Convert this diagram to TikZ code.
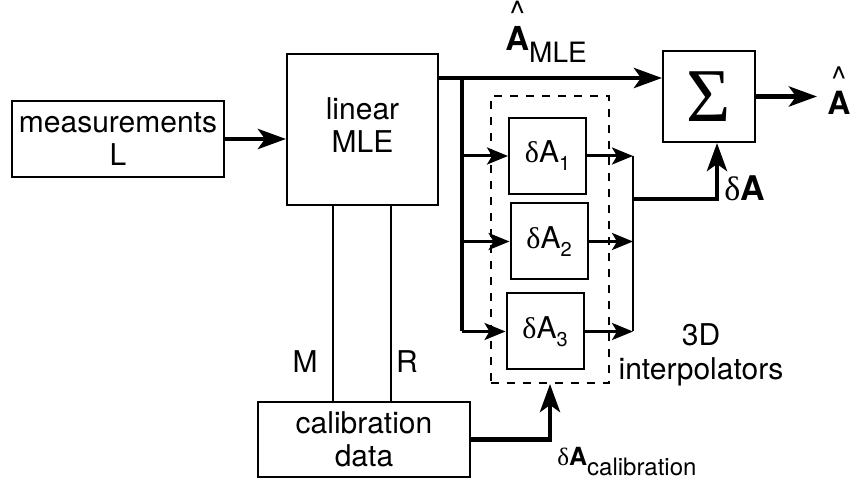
\documentclass[tikz,border=0pt]{standalone}
\usepackage{fontspec}
\setmainfont{TeX Gyre Heros}
\newfontfamily\greekfont{Liberation Serif}
\usetikzlibrary{arrows.meta,positioning}

\newcommand{\dl}{{\greekfont δ}}
\newcommand{\sbs}[1]{\raisebox{-4pt}{\fontsize{10}{10}\selectfont #1}}
\newcommand{\hatA}{\ooalign{\textbf{A}\cr\hidewidth\raisebox{0.8em}{\textasciicircum}\hidewidth\cr}}

\begin{document}
\begin{tikzpicture}[
  x=0.5pt, y=-0.5pt,
  box/.style={draw, line width=1pt, inner sep=0pt, align=center,
    font=\fontsize{15}{16.5}\selectfont},
  frame/.style={draw, dash pattern=on 4pt off 4pt, line width=1pt},
  arrow/.style={-{Stealth[length=14pt, width=10pt, inset=3.5pt]}, line width=2.4pt},
  sarrow/.style={-{Stealth[length=10.5pt, width=8.5pt, inset=2.5pt]}, line width=1.5pt},
  wire/.style={line width=1pt},
  label/.style={font=\fontsize{15}{17}\selectfont, inner sep=0pt, align=center}
]
  \useasboundingbox (0,0) rectangle (852,485);

  % --- Blocks ---
  \node[box, minimum width=106pt, minimum height=38pt] (meas) at (118,139) {measurements\\L};
  \node[box, minimum width=75.5pt, minimum height=75.5pt] (mle) at (362.5,129.5)
    {\raisebox{3pt}{\begin{tabular}{@{}c@{}}linear\\MLE\end{tabular}}};
  \node[box, minimum width=46pt, minimum height=45.5pt,
    font=\greekfont\fontsize{38}{38}\selectfont] (sum) at (709,96.5) {Σ};
  \node[box, minimum width=106pt, minimum height=37.5pt] (calib) at (364,439.5) {calibration\\data};

  % --- Interpolators ---
  \node[frame, minimum width=59pt, minimum height=143.5pt] (interp) at (550,239.5) {};
  \node[box, minimum width=38.5pt, minimum height=38pt] (d1) at (547.5,156) {\dl A\sbs{1}};
  \node[box, minimum width=38.5pt, minimum height=38pt] (d2) at (549,241.5) {\dl A\sbs{2}};
  \node[box, minimum width=38.5pt, minimum height=38pt] (d3) at (545,331.5) {\dl A\sbs{3}};

  \coordinate (split) at (462,78);
  \coordinate (join) at (633,199);
  \coordinate (out) at (817,96.5);

  % --- Arrows ---
  \draw[arrow] (meas.east) -- (meas.east -| mle.west);
  \draw[arrow] (mle.east |- split) -- (sum.west |- split);
  \draw[line width=2pt] (split) -- (split |- d3);
  \foreach \i in {1,2,3} {
    \draw[sarrow] (split |- d\i) -- (d\i.west);
    \draw[sarrow] (d\i.east) -- (d\i.east -| join);
  }
  \draw[line width=1.3pt] (join |- d1) -- (join |- d3);
  \draw[arrow] (join) -| ([xshift=4pt]sum.south);
  \draw[arrow] (sum.east) -- (out);
  \draw[wire] ([xshift=-15pt]mle.south) -- ([xshift=-15pt]mle.south |- calib.north);
  \draw[wire] ([xshift=14pt]mle.south) -- ([xshift=14pt]mle.south |- calib.north);
  \draw[arrow] (calib.east) -| (interp.south);

  % --- Labels ---
  \node[label] (mlab) at (305,362) {M};
  \node[label] (rlab) at (407,362) {R};
  \node[label] (interplab) at (701,355) {3D\\interpolators};
  \node[label, anchor=base west, font=\fontsize{17}{17}\selectfont] (dAlab) at (724,201) {\dl\textbf{A}};
  \node[label, anchor=base west, font=\fontsize{12.5}{13}\selectfont] (dAcal) at (557,466)
    {\dl\textbf{A}\raisebox{-5pt}{\fontsize{12}{12}\selectfont calibration}};
  \node[label, anchor=base west] (amle) at (505,51)
    {{\fontsize{16.5}{16.5}\selectfont\hatA}\raisebox{-6pt}{\fontsize{14}{14}\selectfont MLE}};
  \node[label, anchor=base west, font=\fontsize{16}{16}\selectfont] (ahat) at (827,115) {\hatA};
\end{tikzpicture}
\end{document}
